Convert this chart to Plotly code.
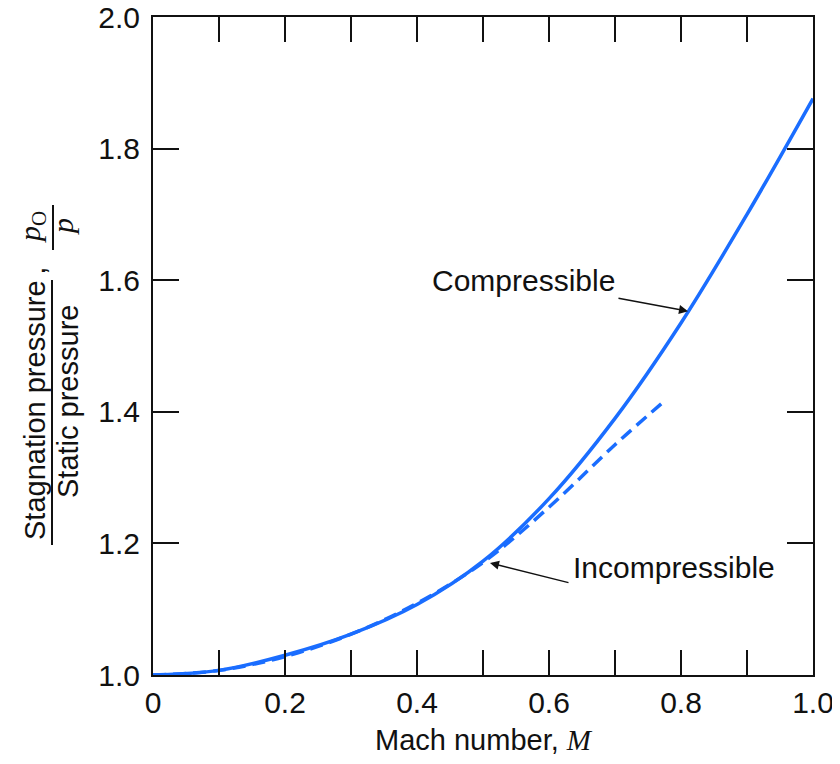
import plotly.graph_objects as go

# Data
mach = [0.0, 0.1, 0.2, 0.3, 0.4, 0.5, 0.6, 0.7, 0.8, 0.9, 1.0]
compressible = [1.000, 1.007, 1.030, 1.062, 1.107, 1.173, 1.268, 1.390, 1.535, 1.700, 1.876]
mach_incomp = [0.0, 0.1, 0.2, 0.3, 0.4, 0.5, 0.6, 0.7, 0.77]
incompressible = [1.000, 1.007, 1.028, 1.062, 1.109, 1.171, 1.255, 1.350, 1.412]

x_tickvals = [0.0, 0.1, 0.2, 0.3, 0.4, 0.5, 0.6, 0.7, 0.8, 0.9, 1.0]
x_ticktext = ["0", "", "0.2", "", "0.4", "", "0.6", "", "0.8", "", "1.0"]
y_tickvals = [1.0, 1.2, 1.4, 1.6, 1.8, 2.0]
y_ticktext = ["1.0", "1.2", "1.4", "1.6", "1.8", "2.0"]

BLUE = "#1a6dff"
INK = "#111111"
FONT = "Liberation Sans, Arial, sans-serif"
SERIF = "Liberation Serif, Times New Roman, serif"
FS = 30

# page body has an 8px margin; figure is sized so the page fits the window
OFF = 8
W, H = 832, 748
L, T = 145, 9
PW, PH = 660, 658
R = W - L - PW
B = H - T - PH


def s2p(px, py):
    """screen pixel -> paper coordinates"""
    return (px - OFF - L) / PW, (H - B - (py - OFF)) / PH


fig = go.Figure()
fig.add_trace(go.Scatter(x=mach_incomp, y=incompressible, mode="lines",
                         line=dict(color=BLUE, width=3.5, dash="13px,7px", shape="spline"),
                         showlegend=False, hoverinfo="skip"))
fig.add_trace(go.Scatter(x=mach, y=compressible, mode="lines",
                         line=dict(color=BLUE, width=3.5, shape="spline"),
                         showlegend=False, hoverinfo="skip"))

annotations = []
# curve labels
annotations.append(dict(x=0.5606, y=1.5988, xref="x", yref="y", text="Compressible",
                        showarrow=False, font=dict(family=FONT, size=FS, color=INK)))
annotations.append(dict(x=0.8106, y=1.553, xref="x", yref="y", ax=0.703, ay=1.573,
                        axref="x", ayref="y", text="", showarrow=True, arrowhead=2,
                        arrowsize=1.2, arrowwidth=1.5, arrowcolor=INK, standoff=0))
annotations.append(dict(x=0.789, y=1.164, xref="x", yref="y", text="Incompressible",
                        showarrow=False, font=dict(family=FONT, size=FS, color=INK)))
annotations.append(dict(x=0.5106, y=1.1702, xref="x", yref="y", ax=0.6318, ay=1.1398,
                        axref="x", ayref="y", text="", showarrow=True, arrowhead=2,
                        arrowsize=1.2, arrowwidth=1.5, arrowcolor=INK, standoff=0))

# x axis title
xt, yt = s2p(484, 740)
annotations.append(dict(x=xt, y=yt, xref="paper", yref="paper", showarrow=False,
                        text='Mach number, <span style="font-family:Liberation Serif;font-style:italic">M</span>',
                        font=dict(family=FONT, size=29, color=INK),
                        xanchor="center", yanchor="middle"))


# y axis title (rotated fractions)
def rot(px, py, text, family=FONT, size=29):
    x, y = s2p(px, py)
    annotations.append(dict(x=x, y=y, xref="paper", yref="paper", showarrow=False,
                            text=text, textangle=-90, xanchor="center", yanchor="middle",
                            font=dict(family=family, size=size, color=INK)))


rot(35, 403, "Stagnation pressure\u2009,")
rot(68, 402, "Static pressure")
rot(32, 227, "<i>p</i><sub>O</sub>", family=SERIF, size=30)
rot(62, 227, "<i>p</i>", family=SERIF, size=30)

shapes = []
x0, y0 = s2p(52, 545)
x1, y1 = s2p(52, 280)
shapes.append(dict(type="line", xref="paper", yref="paper", x0=x0, x1=x1, y0=y0, y1=y1,
                   line=dict(color=INK, width=2)))
x0, y0 = s2p(53, 250)
x1, y1 = s2p(53, 205)
shapes.append(dict(type="line", xref="paper", yref="paper", x0=x0, x1=x1, y0=y0, y1=y1,
                   line=dict(color=INK, width=2)))

fig.update_layout(
    width=W, height=H, autosize=False,
    margin=dict(l=L, r=R, t=T, b=B, pad=0, autoexpand=False),
    paper_bgcolor="white", plot_bgcolor="white",
    font=dict(family=FONT, size=FS, color=INK),
    annotations=annotations, shapes=shapes,
    xaxis=dict(range=[0, 1], tickmode="array", tickvals=x_tickvals, ticktext=x_ticktext,
               ticks="inside", ticklen=25, tickwidth=2, tickcolor=INK,
               showline=True, linecolor=INK, linewidth=2, mirror="ticks",
               showgrid=False, zeroline=False, automargin=False, ticklabeloverflow="allow",
               tickfont=dict(size=FS, color=INK)),
    yaxis=dict(range=[1, 2], tickmode="array", tickvals=y_tickvals, ticktext=y_ticktext,
               ticks="inside", ticklen=26, tickwidth=2, tickcolor=INK,
               showline=True, linecolor=INK, linewidth=2, mirror="ticks",
               showgrid=False, zeroline=False, automargin=False, ticklabelstandoff=5,
               ticklabeloverflow="allow", tickfont=dict(size=FS, color=INK)),
)

fig.write_html("out.html")
